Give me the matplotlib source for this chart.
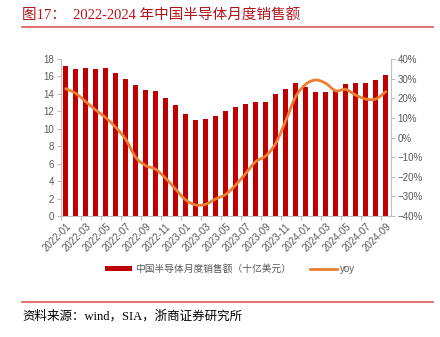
import matplotlib
matplotlib.use("Agg")
import matplotlib.pyplot as plt
from matplotlib.path import Path
from matplotlib.patches import PathPatch, Patch
from matplotlib.lines import Line2D
import numpy as np

plt.rcParams['font.family'] = ['Liberation Sans', 'Noto Sans CJK SC']

months = [f"{y}-{m:02d}" for y in (2022, 2023, 2024) for m in range(1, 13)][:33]
sales = [17.2, 16.8, 17.0, 16.8, 17.0, 16.35, 15.7, 15.0, 14.5, 14.3, 13.5, 12.7,
         11.7, 11.0, 11.1, 11.5, 12.0, 12.5, 12.8, 13.1, 13.1, 14.0, 14.6, 15.2,
         14.8, 14.25, 14.25, 14.3, 15.1, 15.2, 15.3, 15.6, 16.2]
yoy = [24.9, 22.5, 18.3, 14.0, 10.1, 5.2, -0.9, -10.1, -14.3, -16.2, -20.8, -26.4,
       -31.8, -34.4, -34.0, -31.3, -29.0, -24.2, -18.3, -12.3, -9.4, -3.0, 8.5, 20.8,
       27.1, 29.3, 27.6, 23.8, 24.5, 21.6, 19.6, 19.6, 23.3]

title = "图17：  2022-2024 年中国半导体月度销售额"
source = "资料来源：wind，SIA，浙商证券研究所"
bar_label = "中国半导体月度销售额（十亿美元）"
line_label = "yoy"

BAR_C = "#C00000"
LINE_C = "#ED7D31"
GREY = "#595959"
SPINE = "#BFBFBF"

fig = plt.figure(figsize=(4.4, 3.37), dpi=100)
ax = fig.add_axes([60.7 / 440, (337 - 216) / 337, 330 / 440, 157 / 337])
ax2 = ax.twinx()

x = np.arange(len(months))
ax.bar(x, sales, width=0.45, color=BAR_C, zorder=2)
ax.set_xlim(-0.5, len(months) - 0.5)
ax.set_ylim(0, 18)
ax.set_yticks(range(0, 19, 2))
ax2.set_ylim(-40, 40)
ax2.set_yticks(range(-40, 41, 10))
ax2.set_yticklabels([f"{v}%".replace("-", "\u2212") for v in range(-40, 41, 10)])

# smoothed yoy curve (Catmull-Rom segments as cubic Bezier)
pts = np.column_stack([x, yoy]).astype(float)
verts = [tuple(pts[0])]
codes = [Path.MOVETO]
n = len(pts)
for i in range(n - 1):
    p0 = pts[i - 1] if i > 0 else pts[i]
    p1 = pts[i]
    p2 = pts[i + 1]
    p3 = pts[i + 2] if i + 2 < n else pts[i + 1]
    c1 = p1 + (p2 - p0) / 6
    c2 = p2 - (p3 - p1) / 6
    verts += [tuple(c1), tuple(c2), tuple(p2)]
    codes += [Path.CURVE4] * 3
ax2.add_patch(PathPatch(Path(verts, codes), facecolor="none", edgecolor=LINE_C,
                        lw=2.0, capstyle="round", joinstyle="round", zorder=3))

# axes styling
for a in (ax, ax2):
    a.spines["top"].set_visible(False)
    for s in ("left", "right", "bottom"):
        a.spines[s].set_color(SPINE)
        a.spines[s].set_linewidth(0.8)
ax.spines["right"].set_visible(False)
ax2.spines["left"].set_visible(False)
ax2.spines["bottom"].set_visible(False)

ax.set_xticks(x[::2])
ax.set_xticklabels(months[::2], rotation=45, ha="right", rotation_mode="anchor",
                   fontsize=7, color=GREY)
ax.set_xticks(np.arange(-0.5, len(months) - 0.5, 2), minor=True)
ax.tick_params(axis="x", which="major", length=0, pad=4)
ax.tick_params(axis="x", which="minor", length=3, color=SPINE, width=0.8)
ax.tick_params(axis="y", length=3, color=SPINE, width=0.8, labelsize=7,
               labelcolor=GREY, pad=2)
ax2.tick_params(axis="y", length=3, color=SPINE, width=0.8, labelsize=7,
                labelcolor=GREY, pad=2)

# legend
handles = [Patch(facecolor=BAR_C, edgecolor="none"),
           Line2D([0], [0], color=LINE_C, lw=2.0)]
fig.legend(handles, [bar_label, line_label], loc="center",
           bbox_to_anchor=(230 / 440, 1 - 269 / 337), ncol=2, frameon=False,
           fontsize=7, labelcolor=GREY, handlelength=2.8, handleheight=0.5,
           columnspacing=2.0, handletextpad=0.3)

# header and footer
fig.text(22 / 440, 1 - 15 / 337, title, fontsize=10.5, color="#B5121B",
         family=["Liberation Serif", "Noto Sans CJK SC"], va="center", ha="left")
fig.add_artist(Line2D([22 / 440, 433 / 440], [1 - 27 / 337] * 2,
                      color="#E06666", lw=1.3))
fig.add_artist(Line2D([22 / 440, 433 / 440], [1 - 302 / 337] * 2,
                      color="#E06666", lw=1.3))
fig.text(22 / 440, 1 - 316 / 337, source, fontsize=9, color="black",
         family=["Liberation Serif", "Noto Sans CJK SC"], va="center", ha="left")

fig.savefig("out.png", dpi=100)
